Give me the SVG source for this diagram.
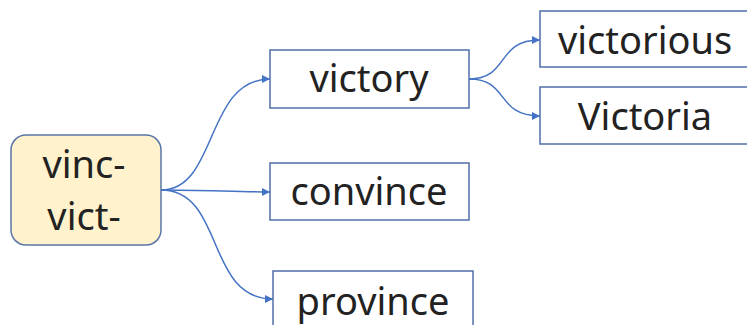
<svg xmlns="http://www.w3.org/2000/svg" width="747" height="325" viewBox="0 0 747 325">
<style>
.box{fill:#ffffff;stroke:#4f6fa8;stroke-width:1.5}
.root{fill:#fff2cc;stroke:#5a76a8;stroke-width:1.5}
.t{font-family:"Noto Sans","Open Sans",sans-serif;font-size:38px;fill:#222222;text-anchor:middle}
.c{fill:none;stroke:#4472c4;stroke-width:1.5}
</style>
<defs>
<marker id="ah" viewBox="0 0 10 10" refX="10" refY="5" markerWidth="9" markerHeight="8" orient="auto" markerUnits="userSpaceOnUse">
<path d="M0,0 L10,5 L0,10 z" fill="#4472c4"/>
</marker>
</defs>
<rect width="747" height="325" fill="#ffffff"/>
<g id="connectors">
<path class="c" marker-end="url(#ah)" d="M161,190 C218,190 205,79 270,79"/>
<path class="c" marker-end="url(#ah)" d="M161,190 C200,190 240,192 270,192"/>
<path class="c" marker-end="url(#ah)" d="M161,190 C225,190 205,299 273,299"/>
<path class="c" marker-end="url(#ah)" d="M469,79 C510,79 495,40 540,40"/>
<path class="c" marker-end="url(#ah)" d="M469,79 C510,79 495,116 540,116"/>
</g>
<g id="root">
<rect class="root" x="11" y="135" width="150" height="110" rx="15"/>
<text class="t" x="84" y="178">vinc-</text>
<text class="t" x="84" y="230">vict-</text>
</g>
<g id="victory">
<rect class="box" x="270" y="50" width="199" height="58"/>
<text class="t" x="369" y="92">victory</text>
</g>
<g id="convince">
<rect class="box" x="270" y="163" width="199" height="57"/>
<text class="t" x="369" y="205">convince</text>
</g>
<g id="province">
<rect class="box" x="273" y="271" width="200" height="60"/>
<text class="t" x="373" y="315">province</text>
</g>
<g id="victorious">
<rect class="box" x="540" y="11" width="212" height="56"/>
<text class="t" x="645" y="54">victorious</text>
</g>
<g id="Victoria">
<rect class="box" x="540" y="87" width="212" height="57"/>
<text class="t" x="645" y="130">Victoria</text>
</g>
</svg>
